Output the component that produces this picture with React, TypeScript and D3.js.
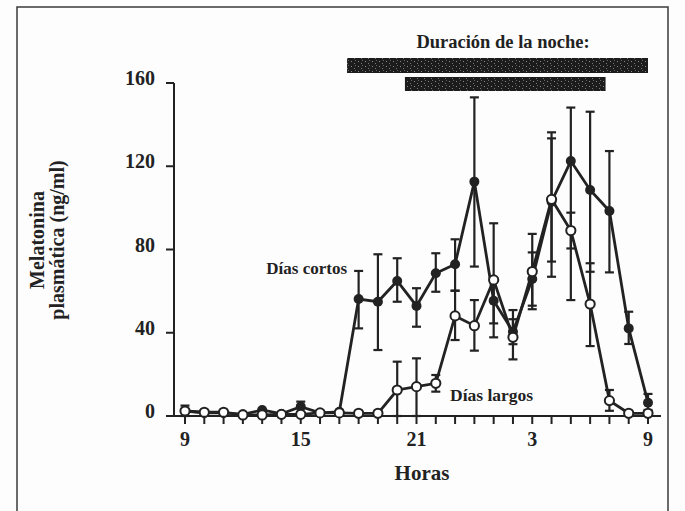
import React from "react";
import * as d3 from "d3";

// Hours: 9 (morning) through 33 (= 9 next morning)
const hours = d3.range(9, 34);
const xTickHours = [9, 15, 21, 27, 33];
const xTickLabels = ["9", "15", "21", "3", "9"];
const yTicks = [0, 40, 80, 120, 160];

// Días cortos (filled circles)
const cortosValues = [2.4, 1.5, 1.5, 0.8, 2.9, 1.0, 4.5, 1.5, 2.0, 56.2, 54.9, 64.9, 52.9, 68.6, 72.9, 112.6, 55.4, 40.5, 65.8, 103.0, 122.5, 108.6, 98.5, 42.1, 6.4];
const cortosHi: (number | null)[] = [5, null, null, null, null, null, 6.9, null, null, 69.7, 77.7, 75.8, 61.4, 78.2, 84.9, 153.1, 66.0, 46.5, 78.6, 136.3, 148.2, 146.2, 127.3, 50.1, 10.6];
const cortosLo: (number | null)[] = [0, null, null, null, null, null, 2.0, null, null, 42.1, 31.7, 54.9, 42.9, 59.7, 60.2, 71.8, 44.5, 34.5, 53.0, 66.9, 55.7, 69.3, 69.0, 34.6, 2.9];

// Días largos (open circles)
const largosValues = [2.4, 1.8, 1.8, 0.5, 0.5, 0.8, 0.8, 1.5, 1.5, 1.3, 1.3, 12.5, 14.1, 15.7, 48.1, 43.4, 65.4, 37.8, 69.4, 104.1, 89.1, 53.8, 7.4, 1.3, 1.3];
const largosHi: (number | null)[] = [null, null, null, null, null, null, null, null, null, null, null, 26.1, 27.7, 19.7, 60.2, 55.7, 92.6, 50.9, 87.5, 133.4, 97.7, 73.4, 12.5, null, null];
const largosLo: (number | null)[] = [null, null, null, null, null, null, null, null, null, null, null, 0, 0, 11.7, 36.5, 31.4, 37.8, 27.2, 51.3, 74.2, 80.5, 33.6, 2.5, null, null];

// Night duration bars (hours)
const nightShort = [17.4, 33.0];
const nightLong = [20.4, 30.8];

const INK = "#222";
const FONT = "'Liberation Serif', 'Times New Roman', serif";

export default function App() {
  const x = d3.scaleLinear().domain([9, 33]).range([185, 648]);
  const y = d3.scaleLinear().domain([0, 160]).range([416, 83]);
  const line = d3
    .line<number>()
    .x((_, i) => x(hours[i]))
    .y((d) => y(d));

  const errorBars = (hi: (number | null)[], lo: (number | null)[], key: string) =>
    hours.map((h, i) => {
      const a = hi[i];
      const b = lo[i];
      if (a == null || b == null) return null;
      const cx = x(h);
      return (
        <g key={key + i} stroke={INK} strokeWidth={2.2}>
          <line x1={cx} x2={cx} y1={y(a)} y2={y(b)} />
          <line x1={cx - 4.5} x2={cx + 4.5} y1={y(a)} y2={y(a)} />
          <line x1={cx - 4.5} x2={cx + 4.5} y1={y(b)} y2={y(b)} />
        </g>
      );
    });

  return (
    <svg
      width={685}
      height={511}
      style={{ position: "absolute", left: 0, top: 0, background: "#fdfdfd" }}
      fontFamily={FONT}
    >
      <defs>
        <pattern id="speckle" width="7" height="5" patternUnits="userSpaceOnUse">
          <rect width="7" height="5" fill="#1c1c1c" />
          <rect x="1" y="1" width="1" height="1" fill="#8a8a8a" />
          <rect x="4" y="3" width="1" height="1" fill="#777" />
          <rect x="5" y="0" width="1" height="1" fill="#666" />
        </pattern>
      </defs>
      <rect x={0} y={0} width={685} height={511} fill="#fdfdfd" />
      {/* frame */}
      <rect x={17} y={7} width={651} height={540} fill="none" stroke="#3a3a3a" strokeWidth={1.5} />

      {/* night title and bars */}
      <text x={503} y={48} textAnchor="middle" fontWeight="bold" fontSize={18.5} fill={INK}>
        Duración de la noche:
      </text>
      <rect x={x(nightShort[0])} y={58} width={x(nightShort[1]) - x(nightShort[0])} height={15} fill="url(#speckle)" />
      <rect x={x(nightLong[0])} y={77} width={x(nightLong[1]) - x(nightLong[0])} height={14} fill="url(#speckle)" />

      {/* y axis */}
      <line x1={174} x2={174} y1={y(160)} y2={y(0)} stroke={INK} strokeWidth={2} />
      {yTicks.map((t) => (
        <g key={"yt" + t}>
          <line x1={166} x2={174} y1={y(t)} y2={y(t)} stroke={INK} strokeWidth={2} />
          <text x={155} y={y(t) + 2} textAnchor="end" fontWeight="bold" fontSize={20} fill={INK}>
            {t}
          </text>
        </g>
      ))}

      {/* x axis */}
      <line x1={174} x2={661} y1={y(0)} y2={y(0)} stroke={INK} strokeWidth={2} />
      {hours.map((h) => (
        <line key={"xt" + h} x1={x(h)} x2={x(h)} y1={y(0)} y2={y(0) + 8} stroke={INK} strokeWidth={2} />
      ))}
      {xTickHours.map((h, i) => (
        <text key={"xl" + h} x={x(h)} y={446} textAnchor="middle" fontWeight="bold" fontSize={20} fill={INK}>
          {xTickLabels[i]}
        </text>
      ))}

      {/* axis titles */}
      <text x={422} y={480} textAnchor="middle" fontWeight="bold" fontSize={21} fill={INK}>
        Horas
      </text>
      <g transform="translate(44,240) rotate(-90)">
        <text x={0} y={0} textAnchor="middle" fontWeight="bold" fontSize={20} fill={INK}>
          Melatonina
        </text>
        <text x={0} y={20} textAnchor="middle" fontWeight="bold" fontSize={20} fill={INK}>
          plasmática (ng/ml)
        </text>
      </g>

      {/* Días cortos */}
      {errorBars(cortosHi, cortosLo, "ce")}
      <path d={line(cortosValues) || ""} fill="none" stroke={INK} strokeWidth={2.8} />
      {cortosValues.map((v, i) => (
        <circle key={"cc" + i} cx={x(hours[i])} cy={y(v)} r={5} fill={INK} />
      ))}

      {/* Días largos */}
      {errorBars(largosHi, largosLo, "le")}
      <path d={line(largosValues) || ""} fill="none" stroke={INK} strokeWidth={2.8} />
      {largosValues.map((v, i) => (
        <circle key={"lc" + i} cx={x(hours[i])} cy={y(v)} r={4.6} fill="#fff" stroke={INK} strokeWidth={2} />
      ))}

      {/* series labels */}
      <text x={347} y={274} textAnchor="end" fontWeight="bold" fontSize={17} fill={INK}>
        Días cortos
      </text>
      <text x={450} y={401} textAnchor="start" fontWeight="bold" fontSize={17.5} fill={INK}>
        Días largos
      </text>
    </svg>
  );
}
